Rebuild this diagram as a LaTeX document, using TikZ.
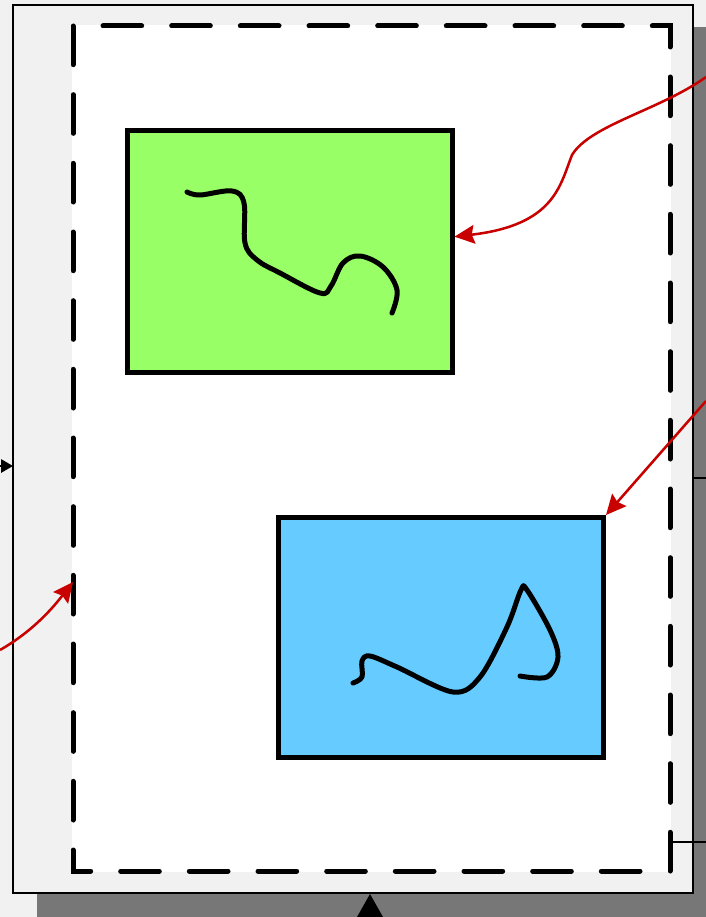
\documentclass[tikz,border=0pt]{standalone}
\usetikzlibrary{arrows.meta,calc}
\definecolor{backgrey}{RGB}{241,241,241}
\definecolor{shadowgrey}{RGB}{119,119,119}
\definecolor{linkred}{RGB}{200,0,0}
\definecolor{panegreen}{RGB}{153,255,102}
\definecolor{paneblue}{RGB}{102,204,255}

\begin{document}
\begin{tikzpicture}[x=0.75pt, y=-0.75pt, >=stealth,
    pane/.style={draw=black, line width=3.75pt, minimum width=243.75pt, inner sep=0pt},
    squiggle/.style={black, line width=3.75pt, line cap=round, line join=round},
    pageframe/.style={draw=black, line width=1.5pt, fill=backgrey},
    dashframe/.style={black, line width=3.75pt, line cap=round, dash pattern=on 29pt off 22.5pt},
    link/.style={linkred, line width=1.9pt, -{Stealth[length=15pt, width=14pt, inset=2pt]}},
    wire/.style={black, line width=1.5pt}]

    \useasboundingbox (0,0) rectangle (706,917);
    \clip (0,0) rectangle (706,917);

    % page with its shadow
	\fill[backgrey] (0,0) rectangle (706,917);
	\fill[shadowgrey] (37,27) rectangle (740,940);
	\draw[pageframe] (13,5) rectangle (693,893);
	\fill[white] (72,25) rectangle (671,872);
	\draw[dashframe] (73,26) rectangle (670,871);

	% the two panes
	\node[pane, fill=panegreen, minimum height=181.5pt] (green) at (289.5,251.5) {};
	\node[pane, fill=paneblue, minimum height=180pt] (blue) at (441,637.5) {};

	\draw[squiggle] plot[smooth, tension=0.6] coordinates {(187,192) (200,195) (232,191) (244,203) (245,243) (257,260) (280,273) (320,293) (331,286) (343,263) (360,256) (383,267) (397,290) (392,313)};
	\draw[squiggle] plot[smooth, tension=0.55] coordinates {(353,683) (362,677) (362,661) (370,656) (397,667) (453,692) (480,677) (507,627) (521,590) (527,590) (550,630) (558,657) (547,677) (520,676)};

	% red links
	\coordinate (dashedge) at (73,582);
	\draw[link] (706,77) .. controls (660,110) and (590,125) .. (572,155)
		.. controls (560,185) and (555,225) .. ($(green.north east)!0.44!(green.south east)$);
	\draw[link] (706,401) -- (blue.north east);
	\draw[link] (0,650) .. controls (35,630) and (55,605) .. (dashedge);

	% wires leaving the page
	\draw[wire, -{Triangle[length=9pt, width=10pt]}] (-30,466) -- (13,466);
	\draw[wire, -{Triangle[length=18pt, width=20pt]}] (370,960) -- (370,894);
	\draw[wire] (693,478) -- (720,478);
	\draw[wire] (671,842) -- (720,842);

\end{tikzpicture}
\end{document}
